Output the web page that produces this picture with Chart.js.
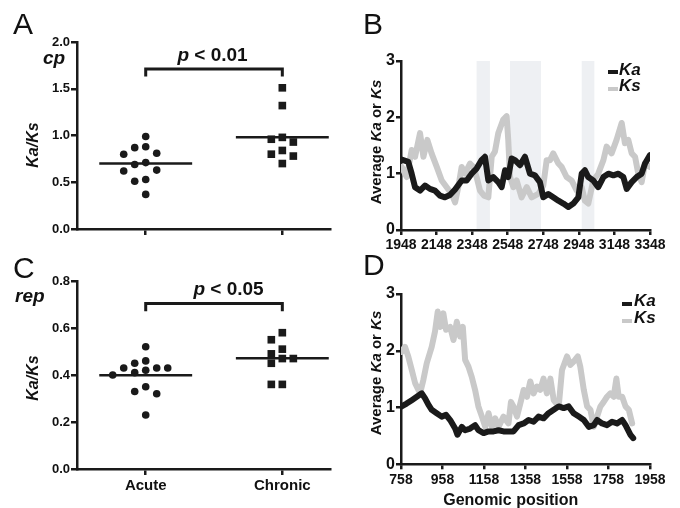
<!DOCTYPE html>
<html>
<head>
<meta charset="utf-8">
<script src="https://cdn.jsdelivr.net/npm/chart.js@4.4.0/dist/chart.umd.min.js"></script>
<style>
  body { margin: 0; background: #fff; }
  #wrap { position: relative; width: 680px; height: 508px; overflow: hidden; background: #fff;
          font-family: 'Liberation Sans', Arial, Helvetica, sans-serif; color: #111; }
  canvas { position: absolute; }
  .t { position: absolute; white-space: nowrap; line-height: 1; }
  .letter { font-size: 30px; font-weight: normal; }
  .gene { font-size: 19px; font-weight: bold; font-style: italic; }
  .pval { font-size: 19px; font-weight: bold; transform: translateX(-50%); }
  .rot { transform: translate(-50%, -50%) rotate(-90deg); font-weight: bold; }
  .leg { font-size: 17px; font-weight: bold; font-style: italic; }
  .sw { position: absolute; width: 10px; height: 4.5px; }
</style>
</head>
<body>
<div id="wrap">
  <canvas id="cA" width="340" height="250" style="left:0;top:0;width:340px;height:250px"></canvas>
  <canvas id="cB" width="340" height="250" style="left:340px;top:0;width:340px;height:250px"></canvas>
  <canvas id="cC" width="340" height="258" style="left:0;top:250px;width:340px;height:258px"></canvas>
  <canvas id="cD" width="340" height="258" style="left:340px;top:250px;width:340px;height:258px"></canvas>

  <div class="t letter" style="left:13px;top:9px">A</div>
  <div class="t letter" style="left:363px;top:9px">B</div>
  <div class="t letter" style="left:13px;top:253px">C</div>
  <div class="t letter" style="left:363px;top:249.5px">D</div>

  <div class="t gene" style="left:43px;top:48px">cp</div>
  <div class="t gene" style="left:15px;top:285.5px">rep</div>

  <div class="t pval" style="left:212.5px;top:45px"><i>p</i> &lt; 0.01</div>
  <div class="t pval" style="left:228.5px;top:279px"><i>p</i> &lt; 0.05</div>

  <div class="t rot" style="left:33px;top:145px;font-size:16px;font-style:italic">Ka/Ks</div>
  <div class="t rot" style="left:33px;top:378px;font-size:16px;font-style:italic">Ka/Ks</div>
  <div class="t rot" style="left:375px;top:142px;font-size:15px">Average <i>Ka</i> or <i>Ks</i></div>
  <div class="t rot" style="left:375px;top:373px;font-size:15px">Average <i>Ka</i> or <i>Ks</i></div>

  <div class="t" style="left:510.8px;top:492px;font-size:16px;font-weight:bold;transform:translateX(-50%)">Genomic position</div>

  <div class="sw" style="left:608px;top:69.5px;background:#1a1a1a"></div>
  <div class="t leg" style="left:619px;top:60.5px">Ka</div>
  <div class="sw" style="left:608px;top:86.5px;background:#c9c9c9"></div>
  <div class="t leg" style="left:619px;top:77.3px">Ks</div>

  <div class="sw" style="left:622px;top:301.5px;background:#1a1a1a"></div>
  <div class="t leg" style="left:634px;top:291.6px">Ka</div>
  <div class="sw" style="left:622px;top:318.5px;background:#c9c9c9"></div>
  <div class="t leg" style="left:634px;top:309px">Ks</div>
</div>

<script>
// ---------------- data ----------------
const categories = ['Acute', 'Chronic'];

// Panel A (cp) Ka/Ks per isolate
const cpAcute   = [0.99, 0.88, 0.87, 0.81, 0.80, 0.71, 0.69, 0.63, 0.62, 0.53, 0.51, 0.37];
const cpChronic = [1.51, 1.32, 0.98, 0.96, 0.93, 0.84, 0.80, 0.78, 0.70];
const cpTicks   = [0, 0.5, 1.0, 1.5, 2.0];

// Panel C (rep) Ka/Ks per isolate
const repAcute   = [0.52, 0.46, 0.45, 0.43, 0.43, 0.43, 0.42, 0.41, 0.40, 0.35, 0.33, 0.32, 0.23];
const repChronic = [0.58, 0.55, 0.51, 0.49, 0.47, 0.47, 0.45, 0.36, 0.36];
const repTicks   = [0, 0.2, 0.4, 0.6, 0.8];

// Panel B (cp) sliding-window averages
const posTicksB = [1948, 2148, 2348, 2548, 2748, 2948, 3148, 3348];
const avgTicks  = [0, 1, 2, 3];
const bandsB    = [[2373, 2448], [2561, 2735], [2964, 3035]];
const kaPosB = [1952,1989,2008,2027,2055,2083,2111,2139,2167,2195,2223,2252,2289,2317,2345,2373,2401,2420,2439,2467,2495,2514,2533,2551,2570,2589,2617,2645,2673,2701,2729,2748,2776,2804,2833,2861,2889,2917,2945,2964,2982,3001,3029,3057,3086,3114,3142,3170,3198,3217,3245,3273,3301,3320,3348];
const kaB    = [1.25,1.21,1.00,0.76,0.70,0.79,0.73,0.70,0.61,0.58,0.62,0.72,0.88,0.88,1.00,1.09,1.24,1.30,0.88,0.94,0.85,0.76,1.06,0.94,1.27,1.24,1.15,1.30,1.00,0.97,0.85,0.58,0.64,0.58,0.52,0.47,0.41,0.47,0.58,1.00,1.06,0.94,0.88,0.76,0.94,1.00,0.97,1.00,0.94,0.73,0.85,0.94,1.00,1.18,1.33];
const ksPosB = [1952,1980,2008,2027,2055,2074,2096,2120,2149,2177,2205,2233,2252,2270,2289,2308,2336,2355,2373,2392,2415,2439,2458,2476,2495,2523,2542,2551,2561,2580,2598,2626,2655,2683,2720,2748,2767,2786,2804,2833,2851,2879,2907,2936,2964,2982,3001,3029,3057,3086,3104,3132,3160,3189,3207,3226,3245,3264,3282,3301,3320,3348];
const ksB    = [1.12,0.94,1.42,1.30,1.72,1.30,1.60,1.36,1.12,0.88,0.76,0.64,0.49,0.76,1.12,1.00,1.18,1.12,0.94,0.70,0.61,0.58,1.30,1.39,1.72,1.96,2.02,1.60,0.94,0.76,0.88,0.58,0.76,0.58,0.64,0.79,1.24,1.24,1.36,1.18,1.12,0.94,0.88,0.70,0.76,0.52,0.47,0.88,1.00,1.24,1.48,1.36,1.60,1.90,1.54,1.60,1.36,1.30,1.00,0.85,1.18,1.12];

// Panel D (rep) sliding-window averages
const posTicksD = [758, 958, 1158, 1358, 1558, 1758, 1958];
const kaPosD = [761,785,810,834,858,874,890,906,930,954,975,995,1019,1030,1051,1067,1091,1115,1131,1156,1180,1204,1228,1252,1276,1300,1325,1349,1373,1397,1421,1445,1469,1494,1518,1542,1566,1590,1615,1639,1663,1687,1703,1727,1751,1775,1799,1824,1840,1864,1877];
const kaD    = [1.02,1.07,1.13,1.19,1.25,1.16,1.05,0.96,0.90,0.84,0.87,0.78,0.63,0.52,0.66,0.60,0.63,0.69,0.60,0.55,0.58,0.58,0.60,0.58,0.58,0.58,0.69,0.72,0.78,0.75,0.84,0.81,0.90,0.96,1.02,0.99,1.02,0.90,0.84,0.78,0.66,0.69,0.78,0.72,0.69,0.75,0.72,0.78,0.69,0.52,0.46];
const ksPosD = [761,777,793,810,826,850,866,882,906,922,935,946,962,975,995,1011,1027,1043,1056,1067,1083,1099,1115,1131,1148,1164,1180,1196,1212,1228,1252,1276,1288,1300,1317,1333,1349,1365,1381,1397,1413,1429,1445,1461,1478,1494,1518,1534,1558,1574,1590,1610,1622,1639,1655,1671,1687,1703,1719,1735,1751,1767,1783,1796,1807,1824,1840,1856,1872];
const ksD    = [1.98,2.07,1.90,1.66,1.43,1.25,1.49,1.78,2.07,2.34,2.69,2.42,2.66,2.37,2.42,2.19,2.51,2.25,2.42,1.84,1.72,1.54,1.31,1.02,0.84,0.66,0.90,0.66,0.81,0.66,0.84,0.72,1.10,1.02,0.84,1.07,1.31,1.19,1.46,1.25,1.37,1.31,1.51,1.25,1.51,1.13,1.02,1.66,1.90,1.75,1.81,1.90,1.72,1.31,1.02,0.96,0.66,0.84,1.02,1.10,1.19,1.25,1.19,1.51,1.19,1.19,1.02,0.96,0.72];

// significance bracket levels (value units)
const bracketA = { top: 1.71, end: 1.63 };
const bracketC = { top: 0.704, end: 0.671 };

// ---------------- styling / helpers ----------------
const INK = '#1a1a1a';
const GREY = '#c9c9c9';
const BAND = '#eef0f3';
const FONT = "'Liberation Sans', Arial, Helvetica, sans-serif";
const MEAN_HALF = 0.34;

const mean = a => a.reduce((s, v) => s + v, 0) / a.length;
const zip = (xs, ys) => xs.slice(0, Math.min(xs.length, ys.length)).map((x, i) => ({ x, y: ys[i] }));

// simple beeswarm: offsets computed from the values (no hard-coded positions)
function swarm(values, cat, pxPerY, pxPerCat) {
  const stepPx = 11, minDist = 9;
  const order = values.map((v, i) => i).sort((a, b) => values[b] - values[a]);
  const placed = [], pts = [];
  for (const i of order) {
    const yp = values[i] * pxPerY;
    for (const k of [0, -1, 1, -2, 2, -3, 3, -4, 4]) {
      if (placed.every(p => Math.hypot((p.k - k) * stepPx, p.y - yp) >= minDist)) {
        placed.push({ k, y: yp });
        pts.push({ x: cat + k * stepPx / pxPerCat, y: values[i] });
        break;
      }
    }
  }
  return pts;
}

const bracketPlugin = (b) => ({
  id: 'bracket',
  afterDatasetsDraw(chart) {
    const { ctx, scales: { x, y } } = chart;
    const x0 = x.getPixelForValue(0), x1 = x.getPixelForValue(1);
    const yt = y.getPixelForValue(b.top), ye = y.getPixelForValue(b.end);
    ctx.save();
    ctx.strokeStyle = INK; ctx.lineWidth = 3; ctx.lineJoin = 'miter'; ctx.lineCap = 'butt';
    ctx.beginPath();
    ctx.moveTo(x0, ye); ctx.lineTo(x0, yt); ctx.lineTo(x1, yt); ctx.lineTo(x1, ye);
    ctx.stroke();
    ctx.restore();
  }
});

const bandPlugin = (bands) => ({
  id: 'bands',
  beforeDraw(chart) {
    const { ctx, chartArea: a, scales: { x } } = chart;
    ctx.save();
    ctx.fillStyle = BAND;
    bands.forEach(([s, e]) => {
      const p0 = x.getPixelForValue(s), p1 = x.getPixelForValue(e);
      ctx.fillRect(p0, a.top, p1 - p0, a.bottom - a.top - 1);
    });
    ctx.restore();
  }
});

function axisCommon(tickLen) {
  return {
    grid: { drawOnChartArea: false, color: INK, lineWidth: 2.5, tickLength: tickLen, drawTicks: true },
    border: { color: INK, width: 2.5 }
  };
}

function dotChart(id, acute, chronic, ticks, cfg) {
  const yMax = ticks[ticks.length - 1];
  const pxPerY = cfg.plotH / yMax;
  const pxPerCat = 136.6;
  new Chart(document.getElementById(id), {
    type: 'scatter',
    data: {
      datasets: [
        { type: 'line', data: [{ x: -MEAN_HALF, y: mean(acute) }, { x: MEAN_HALF, y: mean(acute) }],
          borderColor: INK, borderWidth: 2.5, pointRadius: 0, fill: false },
        { type: 'line', data: [{ x: 1 - MEAN_HALF, y: mean(chronic) }, { x: 1 + MEAN_HALF, y: mean(chronic) }],
          borderColor: INK, borderWidth: 2.5, pointRadius: 0, fill: false },
        { data: swarm(acute, 0, pxPerY, pxPerCat), pointStyle: 'circle', pointRadius: 3.8,
          backgroundColor: INK, borderWidth: 0 },
        { data: swarm(chronic, 1, pxPerY, pxPerCat), pointStyle: 'rect', pointRadius: 5.4,
          backgroundColor: INK, borderWidth: 0 }
      ]
    },
    options: {
      responsive: false, animation: false, devicePixelRatio: 1, events: [],
      layout: { padding: { left: 0, top: cfg.top, right: 10, bottom: 0 } },
      plugins: { legend: { display: false }, tooltip: { enabled: false } },
      scales: {
        x: Object.assign({
          type: 'linear', min: -0.503, max: 1.349,
          afterFit: s => { s.height = cfg.xh; },
          afterBuildTicks: s => { s.ticks = categories.map((c, i) => ({ value: i })); },
          ticks: { callback: v => cfg.showCats ? categories[v] : '', color: '#111', padding: 2,
                   maxRotation: 0, autoSkip: false, font: { family: FONT, size: 15, weight: 'bold' } }
        }, axisCommon(6)),
        y: Object.assign({
          min: 0, max: yMax,
          afterFit: s => { s.width = 77; },
          afterBuildTicks: s => { s.ticks = ticks.map(v => ({ value: v })); },
          ticks: { callback: v => Number(v).toFixed(1), color: '#111', padding: 1,
                   font: { family: FONT, size: 13, weight: 'bold' } }
        }, axisCommon(6))
      }
    },
    plugins: [bracketPlugin(cfg.bracket)]
  });
}

function lineChart(id, ka, ks, xTicks, cfg) {
  new Chart(document.getElementById(id), {
    type: 'line',
    data: {
      datasets: [
        { label: 'Ka', data: ka, borderColor: INK, borderWidth: 6, pointRadius: 0, fill: false,
          tension: 0, borderJoinStyle: 'round', borderCapStyle: 'round' },
        { label: 'Ks', data: ks, borderColor: GREY, borderWidth: 6, pointRadius: 0, fill: false,
          tension: 0, borderJoinStyle: 'round', borderCapStyle: 'round' }
      ]
    },
    options: {
      responsive: false, animation: false, devicePixelRatio: 1, events: [],
      layout: { padding: { left: 0, top: cfg.top, right: 30, bottom: 0 } },
      plugins: { legend: { display: false }, tooltip: { enabled: false } },
      scales: {
        x: Object.assign({
          type: 'linear', min: xTicks[0], max: xTicks[xTicks.length - 1],
          afterFit: s => { s.height = cfg.xh; },
          afterBuildTicks: s => { s.ticks = xTicks.map(v => ({ value: v })); },
          ticks: { callback: v => String(v), color: '#111', padding: 2, maxRotation: 0, autoSkip: false,
                   font: { family: FONT, size: 14, weight: 'bold' } }
        }, axisCommon(5)),
        y: Object.assign({
          min: 0, max: avgTicks[avgTicks.length - 1],
          afterFit: s => { s.width = 61; },
          afterBuildTicks: s => { s.ticks = avgTicks.map(v => ({ value: v })); },
          ticks: { callback: v => String(v), color: '#111', padding: 1,
                   font: { family: FONT, size: 16, weight: 'bold' } }
        }, axisCommon(5))
      }
    },
    plugins: cfg.bands ? [bandPlugin(cfg.bands)] : []
  });
}

dotChart('cA', cpAcute, cpChronic, cpTicks, { top: 42, xh: 21, plotH: 187, showCats: false, bracket: bracketA });
dotChart('cC', repAcute, repChronic, repTicks, { top: 31, xh: 39, plotH: 188, showCats: true, bracket: bracketC });
lineChart('cB', zip(kaPosB, kaB), zip(ksPosB, ksB), posTicksB, { top: 61, xh: 20, bands: bandsB });
lineChart('cD', zip(kaPosD, kaD), zip(ksPosD, ksD), posTicksD, { top: 44, xh: 43.7 });
</script>
</body>
</html>
